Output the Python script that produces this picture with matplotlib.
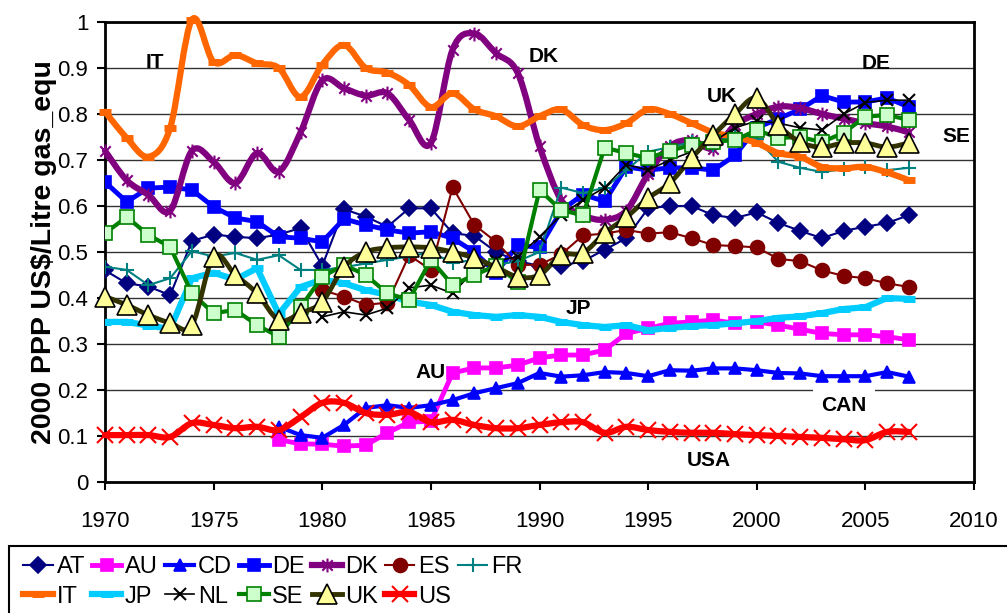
import numpy as np
import matplotlib.pyplot as plt
from matplotlib.path import Path
from matplotlib.patches import PathPatch, Rectangle
from matplotlib.lines import Line2D

plt.rcParams['font.family'] = ['Liberation Sans', 'DejaVu Sans']

# prix de l'essence, US$ PPP 2000 par litre, 1970-2007
years = np.arange(1970, 2008)
nan = np.nan

at = [0.460, 0.432, 0.425, 0.406, 0.524, 0.538, 0.533, 0.530, 0.538, 0.552,
      0.470, 0.593, 0.577, 0.555, 0.595, 0.595, 0.541, 0.535, 0.500, 0.480,
      0.470, 0.470, 0.480, 0.505, 0.530, 0.595, 0.600, 0.600, 0.580, 0.574,
      0.586, 0.563, 0.546, 0.530, 0.546, 0.555, 0.563, 0.580]
au = [nan] * 8 + [
      0.092, 0.083, 0.082, 0.078, 0.080, 0.107, 0.130, 0.132, 0.237, 0.248,
      0.248, 0.254, 0.270, 0.276, 0.276, 0.287, 0.323, 0.334, 0.345, 0.348,
      0.352, 0.345, 0.348, 0.341, 0.332, 0.323, 0.320, 0.320, 0.316, 0.309]
cd = [nan] * 8 + [
      0.120, 0.102, 0.096, 0.124, 0.161, 0.167, 0.161, 0.167, 0.178, 0.193,
      0.204, 0.215, 0.237, 0.229, 0.232, 0.239, 0.237, 0.230, 0.243, 0.242,
      0.247, 0.247, 0.243, 0.237, 0.236, 0.230, 0.230, 0.230, 0.239, 0.229]
de = [0.652, 0.609, 0.639, 0.641, 0.635, 0.598, 0.574, 0.566, 0.533, 0.530,
      0.522, 0.572, 0.559, 0.548, 0.541, 0.544, 0.530, 0.500, 0.455, 0.515,
      0.510, 0.590, 0.625, 0.610, 0.685, 0.678, 0.683, 0.683, 0.678, 0.710,
      0.770, 0.790, 0.810, 0.840, 0.826, 0.826, 0.835, 0.815]
dk = [0.720, 0.656, 0.624, 0.590, 0.720, 0.696, 0.650, 0.715, 0.675, 0.760,
      0.873, 0.856, 0.840, 0.845, 0.787, 0.737, 0.940, 0.975, 0.932, 0.889,
      0.730, 0.613, 0.580, 0.570, 0.590, 0.670, 0.730, 0.743, 0.725, 0.776,
      0.800, 0.816, 0.813, 0.800, 0.790, 0.780, 0.773, 0.760]
es = [nan] * 10 + [
      0.417, 0.403, 0.385, 0.390, 0.493, 0.461, 0.641, 0.559, 0.522, 0.472,
      0.472, 0.495, 0.536, 0.540, 0.548, 0.540, 0.543, 0.530, 0.515, 0.513,
      0.510, 0.485, 0.480, 0.460, 0.448, 0.443, 0.432, 0.424]
fr = [0.468, 0.461, 0.428, 0.443, 0.502, 0.490, 0.498, 0.483, 0.493, 0.461,
      0.461, 0.467, 0.475, 0.483, 0.490, 0.500, 0.476, 0.483, 0.472, 0.480,
      0.500, 0.640, 0.628, 0.640, 0.678, 0.718, 0.728, 0.739, 0.733, 0.759,
      0.745, 0.696, 0.683, 0.674, 0.680, 0.685, 0.678, 0.683]
it = [0.805, 0.748, 0.707, 0.770, 1.005, 0.913, 0.928, 0.910, 0.900, 0.837,
      0.907, 0.950, 0.900, 0.890, 0.863, 0.815, 0.845, 0.810, 0.795, 0.773,
      0.795, 0.810, 0.776, 0.765, 0.780, 0.810, 0.800, 0.780, 0.760, 0.750,
      0.737, 0.715, 0.707, 0.685, 0.682, 0.685, 0.673, 0.656]
jp = [0.348, 0.348, 0.340, 0.333, 0.443, 0.455, 0.440, 0.465, 0.365, 0.424,
      0.440, 0.432, 0.417, 0.407, 0.392, 0.385, 0.370, 0.363, 0.359, 0.363,
      0.359, 0.348, 0.341, 0.337, 0.341, 0.330, 0.335, 0.339, 0.341, 0.345,
      0.350, 0.357, 0.360, 0.367, 0.376, 0.380, 0.400, 0.398]
nl = [nan] * 10 + [
      0.359, 0.370, 0.363, 0.378, 0.422, 0.428, 0.410, 0.460, 0.480, 0.490,
      0.533, 0.580, 0.613, 0.640, 0.690, 0.678, 0.700, 0.718, 0.740, 0.770,
      0.785, 0.780, 0.770, 0.765, 0.800, 0.825, 0.830, 0.830]
se = [0.541, 0.576, 0.537, 0.511, 0.410, 0.367, 0.374, 0.341, 0.316, 0.380,
      0.446, 0.472, 0.450, 0.410, 0.396, 0.483, 0.428, 0.450, 0.470, 0.435,
      0.635, 0.591, 0.580, 0.727, 0.715, 0.704, 0.720, 0.733, 0.740, 0.743,
      0.765, 0.748, 0.750, 0.739, 0.759, 0.794, 0.798, 0.787]
uk = [0.403, 0.385, 0.363, 0.346, 0.341, 0.490, 0.450, 0.410, 0.352, 0.367,
      0.392, 0.467, 0.500, 0.509, 0.511, 0.509, 0.500, 0.487, 0.467, 0.446,
      0.450, 0.493, 0.498, 0.541, 0.576, 0.617, 0.650, 0.704, 0.754, 0.800,
      0.835, 0.776, 0.739, 0.728, 0.737, 0.737, 0.728, 0.737]
us = [0.102, 0.102, 0.102, 0.098, 0.128, 0.124, 0.117, 0.120, 0.113, 0.141,
      0.172, 0.172, 0.150, 0.146, 0.152, 0.130, 0.135, 0.124, 0.117, 0.117,
      0.124, 0.130, 0.130, 0.107, 0.120, 0.113, 0.109, 0.107, 0.107, 0.104,
      0.102, 0.100, 0.098, 0.096, 0.093, 0.091, 0.109, 0.109]

# étoile façon Excel : croix + barre verticale
star = Path([(0, -1), (0, 1), (-0.75, -0.75), (0.75, 0.75), (-0.75, 0.75), (0.75, -0.75)],
            [Path.MOVETO, Path.LINETO] * 3)

# (nom, données, couleur, épaisseur, marqueur, taille, face, bord, lissée)
series = [
    ('AT', at, '#000080', 1.5, 'D', 8, '#000080', '#000080', False),
    ('AU', au, '#FF00FF', 3.5, 's', 9, '#FF00FF', '#FF00FF', False),
    ('CD', cd, '#0000FF', 3.0, '^', 9, '#0000FF', '#0000FF', False),
    ('DE', de, '#0000FF', 3.5, 's', 8, '#0000FF', '#0000FF', False),
    ('DK', dk, '#800080', 4.5, star, 10, '#800080', '#800080', True),
    ('ES', es, '#800000', 1.5, 'o', 10, '#800000', '#800000', False),
    ('FR', fr, '#008080', 1.5, '+', 10, '#008080', '#008080', False),
    ('IT', it, '#FF6600', 4.5, '_', 9, '#FF6600', '#FF6600', True),
    ('JP', jp, '#00CCFF', 4.5, '_', 9, '#00CCFF', '#00CCFF', False),
    ('NL', nl, '#000000', 1.2, 'x', 9, '#000000', '#000000', False),
    ('SE', se, '#008000', 3.0, 's', 10, '#CCFFCC', '#008000', False),
    ('UK', uk, '#333300', 3.5, '^', 14, '#FFFF99', '#000000', True),
    ('US', us, '#FF0000', 4.5, 'x', 11, '#FF0000', '#FF0000', True),
]

labels = [('IT', 1972.3, 0.913), ('DK', 1990.2, 0.924), ('UK', 1998.4, 0.839),
          ('DE', 2005.5, 0.909), ('SE', 2009.2, 0.750), ('JP', 1991.8, 0.378),
          ('AU', 1985.0, 0.237), ('CAN', 2004.0, 0.167), ('USA', 1997.8, 0.046)]


def smooth_path(x, y):
    # courbe lissée (Catmull-Rom en Bézier cubiques)
    pts = np.column_stack([x, y])
    n = len(pts)
    verts = [pts[0]]
    codes = [Path.MOVETO]
    for i in range(n - 1):
        p0 = pts[i - 1] if i > 0 else pts[i]
        p1, p2 = pts[i], pts[i + 1]
        p3 = pts[i + 2] if i + 2 < n else pts[i + 1]
        verts += [p1 + (p2 - p0) / 6, p2 - (p3 - p1) / 6, p2]
        codes += [Path.CURVE4] * 3
    return Path(verts, codes)


fig = plt.figure(figsize=(10.07, 6.13), dpi=100)
ax = fig.add_axes([105 / 1007, 1 - 482 / 613, (974 - 105) / 1007, 460 / 613])

handles = []
for k, (name, vals, col, lw, mk, ms, fc, ec, lisse) in enumerate(series):
    y = np.array(vals, dtype=float)
    ok = ~np.isnan(y)
    x = years[ok]
    y = y[ok]
    z = 3 + k
    if mk == '_':
        mew = 5
    elif mk in ('+', 'x') or mk is star:
        mew = 1.5
    else:
        mew = 1.2
    if lisse:
        ax.add_patch(PathPatch(smooth_path(x, y), fill=False, edgecolor=col, lw=lw,
                               zorder=z, joinstyle='round', capstyle='round',
                               clip_on=False))
        ax.plot(x, y, ls='none', marker=mk, ms=ms, mfc=fc, mec=ec, mew=mew,
                zorder=z, clip_on=False)
    else:
        ax.plot(x, y, color=col, lw=lw, marker=mk, ms=ms, mfc=fc, mec=ec, mew=mew,
                zorder=z, solid_joinstyle='round')
    handles.append(Line2D([], [], color=col, lw=lw, marker=mk, ms=ms, mfc=fc,
                          mec=ec, mew=mew, label=name))

for txt, xx, yy in labels:
    kw = {}
    if txt == 'CAN':
        kw['bbox'] = dict(facecolor='white', edgecolor='none', pad=6)
    ax.text(xx, yy, txt, ha='center', va='center', fontsize=15, fontweight='bold',
            zorder=2, **kw)

ax.set_xlim(1970, 2010)
ax.set_ylim(0, 1)
ax.set_xticks(range(1970, 2011, 5))
ax.set_yticks(np.arange(0, 1.01, 0.1))
ax.set_yticklabels(['0', '0.1', '0.2', '0.3', '0.4', '0.5', '0.6', '0.7', '0.8', '0.9', '1'])
ax.tick_params(labelsize=16, direction='out', length=6, width=1.5)
ax.tick_params(axis='x', pad=15)
ax.tick_params(axis='y', pad=6)
ax.grid(axis='y', color='#333333', lw=1)
ax.set_axisbelow(True)
for sp in ax.spines.values():
    sp.set_linewidth(2)
ax.set_ylabel(r'2000 PPP US\$/Litre gas_equ', fontsize=20.5, fontweight='bold',
              labelpad=0)

# légende en deux lignes, ordre ligne par ligne
order = [0, 7, 1, 8, 2, 9, 3, 10, 4, 11, 5, 12, 6]
fig.legend([handles[i] for i in order], [handles[i].get_label() for i in order],
           loc='upper left', bbox_to_anchor=(14 / 1007, 1 - 547 / 613), ncol=7,
           frameon=False, fontsize=17, handlelength=1.25, handletextpad=0.15,
           columnspacing=0.3, labelspacing=0.3, borderaxespad=0)
fig.patches.append(Rectangle((9 / 1007, -0.05), 1.05, 0.05 + (613 - 546) / 613,
                             transform=fig.transFigure, fill=False,
                             edgecolor='black', lw=1.5))

fig.savefig('out.png', dpi=100)
